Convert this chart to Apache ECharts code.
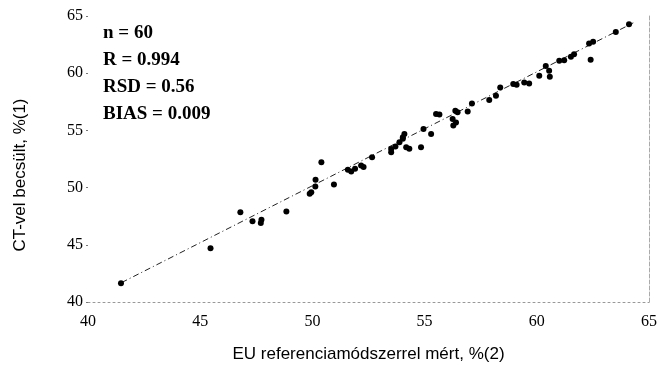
<!DOCTYPE html>
<html>
<head>
<meta charset="utf-8">
<script src="https://cdn.jsdelivr.net/npm/echarts@6/dist/echarts.min.js"></script>
<style>
  html, body { margin: 0; padding: 0; background: #fff; }
  #chart { width: 660px; height: 368px; }
</style>
</head>
<body>
<div id="chart"></div>
<script>
// Reference-method values (x) and CT-estimated values (y), %
const refValues = [
  41.47, 45.46, 46.79, 47.33, 47.73, 47.70, 48.84, 49.88, 49.95, 50.13,
  50.14, 50.40, 50.96, 51.58, 51.73, 51.90, 52.17, 52.28, 52.66, 53.51,
  53.51, 53.70, 53.88, 54.03, 54.10, 54.18, 54.03, 54.32, 54.84, 54.95,
  55.29, 55.51, 55.66, 56.25, 56.37, 56.47, 56.28, 56.40, 56.92, 57.11,
  57.88, 58.18, 58.37, 58.95, 59.10, 59.44, 59.66, 60.11, 60.40, 60.55,
  60.58, 61.00, 61.22, 61.52, 61.66, 62.40, 62.33, 62.51, 63.52, 64.11
];
const ctValues = [
  41.63, 44.70, 47.84, 47.06, 47.20, 46.91, 47.90, 49.47, 49.60, 50.10,
  50.69, 52.22, 50.28, 51.56, 51.41, 51.65, 51.93, 51.79, 52.66, 53.09,
  53.38, 53.60, 53.97, 54.40, 54.69, 53.53, 54.26, 53.39, 53.53, 55.13,
  54.69, 56.44, 56.38, 56.00, 56.72, 56.58, 55.42, 55.70, 56.66, 57.36,
  57.66, 58.03, 58.76, 59.05, 59.00, 59.19, 59.10, 59.77, 60.64, 60.21,
  59.69, 61.08, 61.14, 61.43, 61.66, 61.17, 62.59, 62.76, 63.61, 64.28
];

// Fitted line end points
const fitX = [41.5, 64.3];
const fitY = [41.7, 64.4];

// Axis ticks
const axisMin = 40;
const axisMax = 65;
const axisStep = 5;

// Statistics block
const statsLines = ['n = 60', 'R = 0.994', 'RSD = 0.56', 'BIAS = 0.009'];

const xTitle = 'EU referenciamódszerrel mért, %(2)';
const yTitle = 'CT-vel becsült, %(1)';

const points = refValues.map((x, i) => [x, ctValues[i]]);
const fitLine = fitX.map((x, i) => [x, fitY[i]]);

const serif = '"Liberation Serif", "DejaVu Serif", serif';
const sans = '"Liberation Sans", Arial, sans-serif';

const chart = echarts.init(document.getElementById('chart'), null, { renderer: 'canvas' });

chart.setOption({
  animation: false,
  backgroundColor: '#ffffff',
  grid: { left: 88, right: 10, top: 16, bottom: 66, containLabel: false },
  xAxis: {
    type: 'value',
    min: axisMin, max: axisMax, interval: axisStep,
    name: xTitle,
    nameLocation: 'middle',
    nameGap: 44,
    nameTextStyle: { fontFamily: sans, fontSize: 17, color: '#000' },
    axisLine: { show: true, lineStyle: { color: '#999', width: 1, type: [2, 3] } },
    axisTick: { show: false },
    axisLabel: { fontFamily: serif, fontSize: 16, color: '#000', margin: 12 },
    splitLine: { show: false }
  },
  yAxis: [
    {
      type: 'value',
      min: axisMin, max: axisMax, interval: axisStep,
      axisLine: { show: false },
      axisTick: { show: true, length: 2, lineStyle: { color: '#777' } },
      axisLabel: { fontFamily: serif, fontSize: 16, color: '#000', margin: 5 },
      splitLine: { show: false }
    },
    {
      type: 'value',
      position: 'right',
      min: axisMin, max: axisMax, interval: axisStep,
      axisLine: { show: true, lineStyle: { color: '#aaa', width: 1, type: [4, 2] } },
      axisTick: { show: false },
      axisLabel: { show: false },
      splitLine: { show: false }
    }
  ],
  series: [
    {
      type: 'line',
      data: fitLine,
      symbol: 'none',
      silent: true,
      lineStyle: { color: '#222', width: 1, type: [6, 3, 1, 3] },
      z: 1
    },
    {
      type: 'scatter',
      data: points,
      symbol: 'circle',
      symbolSize: 6,
      itemStyle: { color: '#000', opacity: 1 },
      z: 2
    }
  ],
  graphic: [
    {
      type: 'text',
      left: 103,
      top: 20,
      style: {
        text: statsLines.join('\n'),
        font: 'bold 19px ' + serif,
        lineHeight: 27,
        fill: '#000'
      }
    },
    {
      type: 'text',
      x: 20,
      y: 175,
      rotation: Math.PI / 2,
      style: {
        text: yTitle,
        font: '17px ' + sans,
        fill: '#000',
        align: 'center',
        verticalAlign: 'middle'
      }
    }
  ]
});
</script>
</body>
</html>
